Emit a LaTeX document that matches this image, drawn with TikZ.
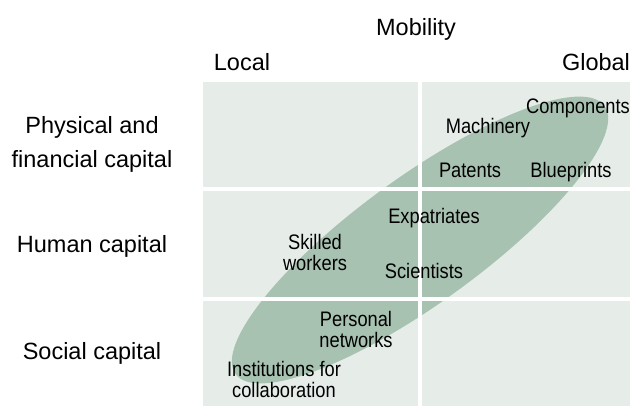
\documentclass[tikz,border=0pt]{standalone}
\usepackage{fontspec}
\setmainfont{Liberation Sans}
\newfontfamily\narrowsans[FakeStretch=0.87]{Liberation Sans}
\definecolor{panel}{RGB}{230,237,233}
\definecolor{blob}{RGB}{168,194,178}
\begin{document}
\begin{tikzpicture}[x=1pt,y=-1pt,
  outer/.style={font=\fontsize{23.5}{34.5}\selectfont, inner sep=0pt, align=center},
  innerlbl/.style={font=\narrowsans\fontsize{21}{21}\selectfont, inner sep=0pt, align=center}]
\useasboundingbox (0,0) rectangle (630,407);
% panel and ellipse
\fill[panel] (203,82.3) rectangle (630,406);
\fill[blob, rotate around={36:(420,240)}] (420,240) ellipse [x radius=228pt, y radius=63pt];
% white gaps
\fill[white] (418.3,82.3) rectangle (421.7,406);
\fill[white] (203,187.3) rectangle (630,191);
\fill[white] (203,296.7) rectangle (630,300.7);
% axis labels
\node[outer, anchor=base] (mob) at (416,35) {Mobility};
\node[outer, anchor=base] (loc) at (242,70) {Local};
\node[outer, anchor=base] (glo) at (596,70) {Global};
\node[outer] (phys) at (92,144.4) {Physical and\\financial capital};
\node[outer, anchor=base] (hum) at (92,252) {Human capital};
\node[outer, anchor=base] (soc) at (92,359) {Social capital};
% items
\node[innerlbl, anchor=base] (comp) at (578,113) {Components};
\node[innerlbl, anchor=base] (mach) at (488,133) {Machinery};
\node[innerlbl, anchor=base] (pat) at (470,177) {Patents};
\node[innerlbl, anchor=base] (blue) at (571,177) {Blueprints};
\node[innerlbl, anchor=base] (expa) at (434,223.3) {Expatriates};
\node[innerlbl] (skill) at (315,252.9) {Skilled\\workers};
\node[innerlbl, anchor=base] (sci) at (424,278.3) {Scientists};
\node[innerlbl] (pers) at (356,329.9) {Personal\\networks};
\node[innerlbl] (inst) at (284,379.9) {Institutions for\\collaboration};
\end{tikzpicture}
\end{document}
